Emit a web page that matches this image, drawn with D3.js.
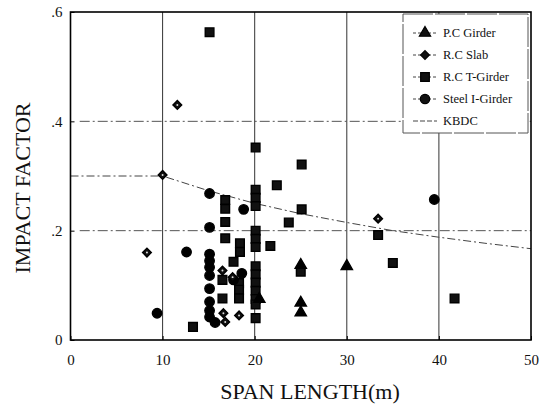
<!DOCTYPE html>
<html>
<head>
<meta charset="utf-8">
<script src="https://cdn.jsdelivr.net/npm/d3@7"></script>
<style>
  body { margin: 0; background: #fff; }
  text { font-family: "Liberation Serif", "DejaVu Serif", serif; fill: #111; }
</style>
</head>
<body>
<div id="main"></div>
<script>
// data: [span length (m), impact factor]
const pcGirder = [[20.5,0.075],[25,0.137],[25,0.068],[25,0.05],[30,0.135]];
const rcSlab = [[8.3,0.16],[10,0.302],[11.6,0.43],[16.5,0.127],[17.6,0.115],
                [16.6,0.049],[16.8,0.033],[18.3,0.045],[33.4,0.222]];
const rcTGirder = [[13.3,0.024],[15.1,0.563],[16.8,0.256],[16.8,0.24],[16.8,0.216],
                   [16.8,0.186],[16.5,0.11],[16.5,0.076],[17.7,0.143],[18.4,0.177],
                   [18.4,0.161],[18.3,0.104],[18.3,0.092],[18.3,0.076],
                   [20.1,0.352],[20.1,0.275],[20.1,0.26],[20.1,0.245],[20.1,0.2],
                   [20.1,0.185],[20.1,0.17],[20.1,0.135],[20.1,0.12],[20.1,0.105],
                   [20.1,0.09],[20.1,0.075],[20.1,0.065],[20.1,0.04],[21.7,0.172],
                   [22.4,0.283],[23.7,0.215],[25.1,0.321],[25.1,0.239],[25,0.125],
                   [33.4,0.192],[35,0.141],[41.7,0.076]];
const steelIGirder = [[9.4,0.049],[12.6,0.161],[15.1,0.268],[15.1,0.206],[15.1,0.157],
                      [15.1,0.145],[15.1,0.133],[15.1,0.118],[15.1,0.094],[15.1,0.07],
                      [15.1,0.054],[15.1,0.042],[15.7,0.032],[17.7,0.11],[18.6,0.122],
                      [18.8,0.239],[39.5,0.257]];
const kbdc = [[0,0.3],[10,0.3],[15,0.273],[20,0.25],[25,0.231],[30,0.215],
              [35,0.2],[40,0.188],[45,0.177],[50,0.167]];
const xTicks = [0,10,20,30,40,50];
const yTicks = [0,0.2,0.4,0.6];
const yTickLabels = ["0",".2",".4",".6"];
const legendNames = ["P.C Girder","R.C Slab","R.C T-Girder","Steel I-Girder","KBDC"];

const W = 551, H = 407;
const m = {left: 70.5, right: 20, top: 12, bottom: 67};
const w = W - m.left - m.right, h = H - m.top - m.bottom;
const serif = '"Liberation Serif", "DejaVu Serif", serif';

const svg = d3.select("#main").append("svg")
    .attr("width", W).attr("height", H);
const g = svg.append("g").attr("transform", `translate(${m.left},${m.top})`);

const x = d3.scaleLinear().domain([0,50]).range([0,w]);
const y = d3.scaleLinear().domain([0,0.6]).range([h,0]);

// grid
g.selectAll(".vg").data([10,20,30,40]).enter().append("line")
    .attr("x1", d => x(d)).attr("x2", d => x(d))
    .attr("y1", 0).attr("y2", h)
    .attr("stroke", "#333").attr("stroke-width", 1);
g.selectAll(".hg").data([0.2,0.4]).enter().append("line")
    .attr("x1", x(1)).attr("x2", w)
    .attr("y1", d => y(d)).attr("y2", d => y(d))
    .attr("stroke", "#555").attr("stroke-width", 1)
    .attr("stroke-dasharray", "10,3,2,3");

// KBDC curve
g.append("path")
    .datum(kbdc)
    .attr("d", d3.line().x(d => x(d[0])).y(d => y(d[1])))
    .attr("fill", "none").attr("stroke", "#444").attr("stroke-width", 1)
    .attr("stroke-dasharray", "8,3,2,3");

// frame
g.append("rect").attr("width", w).attr("height", h)
    .attr("fill", "none").attr("stroke", "#000").attr("stroke-width", 1.6);

// axes
const xAxis = d3.axisBottom(x).tickValues(xTicks).tickSize(-4).tickPadding(14);
const yAxis = d3.axisLeft(y).tickValues(yTicks).tickSize(-4).tickPadding(8)
    .tickFormat((d, i) => yTickLabels[i]);
g.append("g").attr("transform", `translate(0,${h})`).call(xAxis);
g.append("g").call(yAxis);
g.selectAll(".domain").remove();
g.selectAll(".tick line").attr("stroke", "#000");
g.selectAll(".tick text").style("font-size", "15px")
    .style("font-family", serif);

// markers
const sym = {
  tri: d3.symbol().type(d3.symbolTriangle).size(55),
  dia: d3.symbol().type(d3.symbolSquare).size(38),
  sq: d3.symbol().type(d3.symbolSquare).size(75),
  cir: d3.symbol().type(d3.symbolCircle).size(70),
  dot: d3.symbol().type(d3.symbolCircle).size(3)
};
const rot = {tri: 0, dia: 45, sq: 0, cir: 0};
function drawSeries(data, key, fill) {
  return g.append("g").selectAll("path").data(data).enter().append("path")
      .attr("d", sym[key])
      .attr("transform", d => `translate(${x(d[0])},${y(d[1])}) rotate(${rot[key]})`)
      .attr("fill", fill).attr("stroke", "#000").attr("stroke-width", 1.4);
}
drawSeries(rcTGirder, "sq", "#111");
drawSeries(steelIGirder, "cir", "#000");
drawSeries(rcSlab, "dia", "#111");
// light centre of the slab diamonds
g.append("g").selectAll("path").data(rcSlab).enter().append("path")
    .attr("d", sym.dot)
    .attr("transform", d => `translate(${x(d[0])},${y(d[1])})`)
    .attr("fill", "#ddd");
drawSeries(pcGirder, "tri", "#000");

// legend
const lg = svg.append("g").attr("transform", "translate(403,14)");
lg.append("rect").attr("width", 125).attr("height", 119)
    .attr("fill", "#fff").attr("stroke", "#555").attr("stroke-width", 1)
    .attr("stroke-dasharray", "30,2");
const legendKeys = ["tri", "dia", "sq", "cir", null];
legendNames.forEach(function(name, i) {
  const yy = 19 + i * 22;
  lg.append("line").attr("x1", 10).attr("x2", 34).attr("y1", yy).attr("y2", yy)
      .attr("stroke", "#444").attr("stroke-width", 1)
      .attr("stroke-dasharray", i < 4 ? "3,2" : "5,2");
  const k = legendKeys[i];
  if (k) {
    lg.append("path").attr("d", sym[k])
        .attr("transform", `translate(22,${yy}) rotate(${rot[k]})`)
        .attr("fill", "#111").attr("stroke", "#000").attr("stroke-width", 1.2);
  }
  lg.append("text").text(name)
      .attr("x", 40).attr("y", yy + 4)
      .style("font-family", serif)
      .style("font-size", "12.5px");
});

// axis titles
svg.append("text").text("SPAN LENGTH(m)")
    .attr("x", 310).attr("y", 399)
    .attr("text-anchor", "middle")
    .style("font-family", serif)
    .style("font-size", "22px");
svg.append("text").text("IMPACT FACTOR")
    .attr("transform", "translate(30,188) rotate(-90)")
    .attr("text-anchor", "middle")
    .style("font-family", serif)
    .style("font-size", "22px");
</script>
</body>
</html>
